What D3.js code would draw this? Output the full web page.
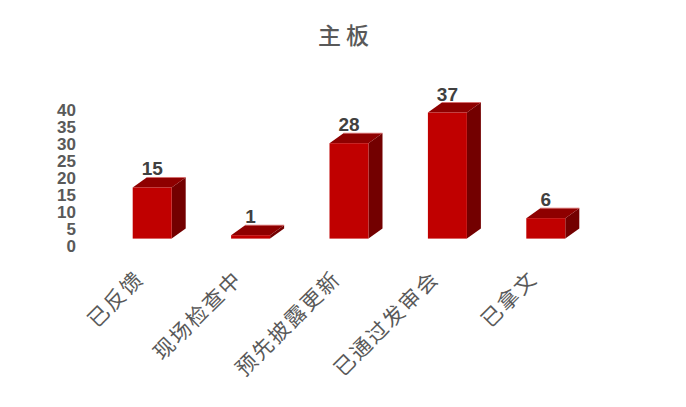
<!DOCTYPE html>
<html>
<head>
<meta charset="utf-8">
<script src="https://cdn.jsdelivr.net/npm/d3@7"></script>
<style>
  body { margin: 0; background: #fff; }
  svg { display: block; }
</style>
</head>
<body>
<div id="chart"></div>
<script>
// data
var categories = ["已反馈", "现场检查中", "预先披露更新", "已通过发审会", "已拿文"];
var values = [15, 1, 28, 37, 6];
var yTicks = [0, 5, 10, 15, 20, 25, 30, 35, 40];
var title = "主板";

var W = 686, H = 407;
var depthX = 14, depthY = 10;   // 3d offset of the box back face
var floorShift = 7.7;           // bars sit a bit above the value axis zero
var barW = 39;

var svg = d3.select("#chart").append("svg")
  .attr("width", W).attr("height", H);

var x = d3.scaleBand().domain(categories).range([103, 595]).paddingInner(0).paddingOuter(0);
var y = d3.scaleLinear().domain([0, 40]).range([246.3, 110]);

// title
svg.append("text")
  .attr("x", 346).attr("y", 44)
  .attr("text-anchor", "middle")
  .style("font-family", "'Noto Sans CJK SC', sans-serif")
  .style("font-size", "23px")
  .style("font-weight", "500")
  .style("letter-spacing", "5px")
  .attr("fill", "#595959")
  .text(title);

// y tick labels
svg.selectAll(".ytick").data(yTicks).enter().append("text")
  .attr("class", "ytick")
  .attr("x", 76)
  .attr("y", function(d){ return y(d); })
  .attr("dy", "0.36em")
  .attr("text-anchor", "end")
  .style("font-family", "'Liberation Sans', Arial, sans-serif")
  .style("font-size", "17px")
  .style("font-weight", "bold")
  .attr("fill", "#595959")
  .text(function(d){ return d; });

// bars
var bars = svg.selectAll(".bar").data(values).enter().append("g").attr("class", "bar");

function x0(i){ return x(categories[i]) + x.bandwidth()/2 - barW/2; }
function yb(){ return y(0) - floorShift; }
function yt(d){ return y(d) - floorShift; }

// side face
bars.append("polygon")
  .attr("points", function(d, i){
    var l = x0(i) + barW, b = yb(), t = yt(d);
    return [[l, b], [l + depthX, b - depthY], [l + depthX, t - depthY], [l, t]].join(" ");
  })
  .attr("fill", "#730000");

// top face
bars.append("polygon")
  .attr("points", function(d, i){
    var l = x0(i), r = l + barW, t = yt(d);
    return [[l, t], [l + depthX, t - depthY], [r + depthX, t - depthY], [r, t]].join(" ");
  })
  .attr("fill", "#8e0000");

// light back edge of the top face
bars.append("line")
  .attr("x1", function(d, i){ return x0(i) + depthX; })
  .attr("x2", function(d, i){ return x0(i) + barW + depthX; })
  .attr("y1", function(d){ return yt(d) - depthY; })
  .attr("y2", function(d){ return yt(d) - depthY; })
  .attr("stroke", "#d86a6a").attr("stroke-width", 0.8);

// front face
bars.append("rect")
  .attr("x", function(d, i){ return x0(i); })
  .attr("y", function(d){ return yt(d); })
  .attr("width", barW)
  .attr("height", function(d){ return yb() - yt(d); })
  .attr("fill", "#c00000");

// value labels
bars.append("text")
  .attr("x", function(d, i){ return x0(i) + barW/2; })
  .attr("y", function(d){ return yt(d) - depthY - 2; })
  .attr("text-anchor", "middle")
  .style("font-family", "'Liberation Sans', Arial, sans-serif")
  .style("font-size", "19px")
  .style("font-weight", "bold")
  .attr("fill", "#404040")
  .text(function(d){ return d; });

// category labels, rotated
svg.selectAll(".xlab").data(categories).enter().append("text")
  .attr("class", "xlab")
  .attr("text-anchor", "end")
  .attr("transform", function(d){
    return "translate(" + (x(d) + x.bandwidth()/2 - 7) + ",280) rotate(-45)";
  })
  .style("font-family", "'Noto Sans CJK SC', sans-serif")
  .style("font-size", "21px")
  .style("letter-spacing", "2px")
  .attr("fill", "#595959")
  .text(function(d){ return d; });
</script>
</body>
</html>
